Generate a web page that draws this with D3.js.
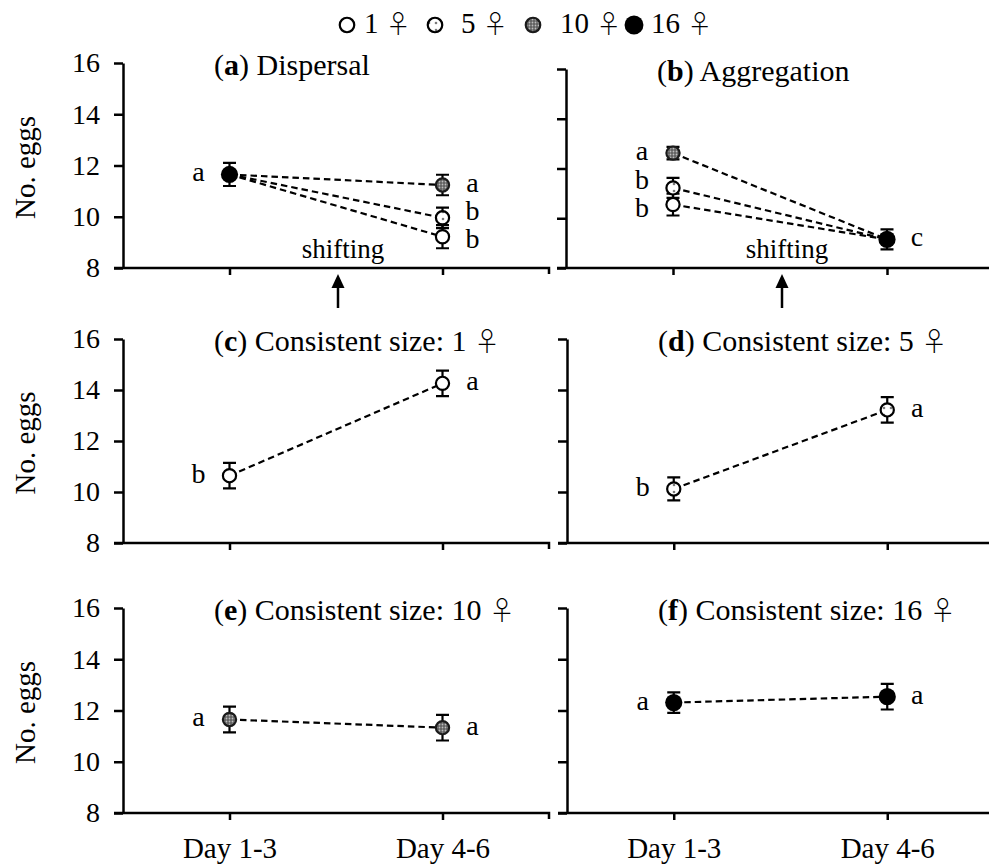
<!DOCTYPE html>
<html>
<head>
<meta charset="utf-8">
<script src="https://cdn.jsdelivr.net/npm/d3@7"></script>
<style>
  html, body { margin: 0; padding: 0; background: #fff; }
  svg { display: block; }
  text { font-family: "Liberation Serif", "Times New Roman", serif; fill: #000; }
  .venus { font-family: "Noto Sans CJK JP", "DejaVu Sans", sans-serif; font-weight: 300; }
</style>
</head>
<body>
<svg id="chart" width="989" height="865"></svg>
<script>
// ---- data ----
const days = ["Day 1-3", "Day 4-6"];
const groupSizes = [1, 5, 10, 16];
const legendLabels = ["1", "5", "10", "16"];
const yTicks = [8, 10, 12, 14, 16];
const FEMALE = "\u2640";

const panelLetters = ["a", "b", "c", "d", "e", "f"];
const panelNames = [" Dispersal", " Aggregation", " Consistent size: 1", " Consistent size: 5",
  " Consistent size: 10", " Consistent size: 16"];
const panelHasSymbol = [false, false, true, true, true, true];

// (a) dispersal: 16 females at first, then split into 10, 5 and 1
const dispersalPoints = [
  { day: 0, size: 16, mean: 11.65, se: 0.45, letter: "a" },
  { day: 1, size: 10, mean: 11.24, se: 0.40, letter: "a" },
  { day: 1, size: 5,  mean: 9.96,  se: 0.40, letter: "b" },
  { day: 1, size: 1,  mean: 9.22,  se: 0.45, letter: "b" }
];
const dispersalLinks = [[0, 1], [0, 2], [0, 3]];

// (b) aggregation: 10, 5 and 1 females merged into 16
const aggregationPoints = [
  { day: 0, size: 10, mean: 12.62, se: 0.25, letter: "a" },
  { day: 0, size: 5,  mean: 11.22, se: 0.40, letter: "b" },
  { day: 0, size: 1,  mean: 10.55, se: 0.44, letter: "b" },
  { day: 1, size: 16, mean: 9.15,  se: 0.40, letter: "c" }
];
const aggregationLinks = [[0, 3], [1, 3], [2, 3]];

// (c)-(f) groups kept at the same size
const size1Points = [
  { day: 0, size: 1, mean: 10.64, se: 0.50, letter: "b" },
  { day: 1, size: 1, mean: 14.26, se: 0.50, letter: "a" }
];
const size5Points = [
  { day: 0, size: 5, mean: 10.12, se: 0.45, letter: "b" },
  { day: 1, size: 5, mean: 13.22, se: 0.50, letter: "a" }
];
const size10Points = [
  { day: 0, size: 10, mean: 11.65, se: 0.50, letter: "a" },
  { day: 1, size: 10, mean: 11.33, se: 0.50, letter: "a" }
];
const size16Points = [
  { day: 0, size: 16, mean: 12.31, se: 0.40, letter: "a" },
  { day: 1, size: 16, mean: 12.54, se: 0.50, letter: "a" }
];
const pairLinks = [[0, 1]];

const panelPoints = [dispersalPoints, aggregationPoints, size1Points, size5Points, size10Points, size16Points];
const panelLinks = [dispersalLinks, aggregationLinks, pairLinks, pairLinks, pairLinks, pairLinks];

// ---- layout ----
const panelBoxes = [
  { x0: 123, x1: 549, top: 63,  bottom: 268 },
  { x0: 566, x1: 994, top: 69,  bottom: 268 },
  { x0: 123, x1: 549, top: 339, bottom: 543 },
  { x0: 567, x1: 994, top: 339, bottom: 543 },
  { x0: 123, x1: 549, top: 608, bottom: 813 },
  { x0: 567, x1: 994, top: 608, bottom: 813 }
];
const legendMarkerX = [347, 435, 533, 634];
const legendTextX = [364, 461, 560, 651];

const svg = d3.select("#chart");
const defs = svg.append("defs");

// speckled fill for 5 females
const dots = defs.append("pattern").attr("id", "dots")
  .attr("patternUnits", "userSpaceOnUse").attr("width", 7).attr("height", 7);
dots.append("rect").attr("width", 7).attr("height", 7).attr("fill", "#fff");
dots.append("circle").attr("cx", 2).attr("cy", 2).attr("r", 1.3).attr("fill", "#7a7a7a");

// mesh fill for 10 females
const mesh = defs.append("pattern").attr("id", "mesh")
  .attr("patternUnits", "userSpaceOnUse").attr("width", 3).attr("height", 3);
mesh.append("rect").attr("width", 3).attr("height", 3).attr("fill", "#5f5f5f");
mesh.append("circle").attr("cx", 1.5).attr("cy", 1.5).attr("r", 0.9).attr("fill", "#bdbdbd");

const fillBySize = d3.scaleOrdinal().domain(groupSizes)
  .range(["#fff", "url(#dots)", "url(#mesh)", "#000"]);
const strokeBySize = d3.scaleOrdinal().domain(groupSizes)
  .range(["#000", "#000", "#1a1a1a", "#000"]);
const radiusBySize = d3.scaleOrdinal().domain(groupSizes).range([6.6, 6.6, 6.6, 8.6]);

function drawMarker(sel, size, cx, cy, scale) {
  const k = scale || 1;
  sel.append("circle")
    .attr("cx", cx).attr("cy", cy)
    .attr("r", radiusBySize(size) * k)
    .attr("fill", fillBySize(size))
    .attr("stroke", size === 16 ? "none" : strokeBySize(size))
    .attr("stroke-width", 2.2);
}

// ---- legend ----
const legend = svg.append("g");
groupSizes.forEach((s, i) => {
  drawMarker(legend, s, legendMarkerX[i], 25, 1.1);
  const t = legend.append("text").attr("x", legendTextX[i]).attr("y", 33).attr("font-size", 29);
  t.append("tspan").text(legendLabels[i] + " ");
  t.append("tspan").attr("class", "venus").attr("font-size", 25).text(FEMALE);
});

// ---- panels ----
panelBoxes.forEach((box, p) => {
  const g = svg.append("g");
  const x = d3.scalePoint().domain(days).range([box.x0, box.x1]).padding(0.5);
  const y = d3.scaleLinear().domain([8, 16]).range([box.bottom, box.top]);
  const leftCol = p % 2 === 0;
  const bottomRow = p >= 4;

  // y axis
  const yAxis = d3.axisLeft(y).tickValues(yTicks).tickSize(9).tickSizeOuter(0)
    .tickPadding(14).tickFormat(leftCol ? d3.format("d") : () => "");
  const ya = g.append("g").attr("transform", `translate(${box.x0},0)`).call(yAxis);
  ya.select(".domain").attr("stroke-width", 2.5);
  ya.selectAll(".tick line").attr("stroke-width", 2.5);
  ya.selectAll(".tick text").attr("font-size", 28)
    .attr("font-family", "'Liberation Serif', serif").attr("fill", "#000");

  // x axis
  const xAxis = d3.axisBottom(x).tickSize(7).tickSizeOuter(0).tickFormat(bottomRow ? d => d : () => "");
  const xa = g.append("g").attr("transform", `translate(0,${box.bottom})`).call(xAxis);
  xa.select(".domain").remove();
  xa.selectAll(".tick line").attr("stroke-width", 2.5);
  xa.selectAll(".tick text").attr("font-size", 29).attr("y", 24)
    .attr("font-family", "'Liberation Serif', serif").attr("fill", "#000");
  g.append("path")
    .attr("d", `M${box.x0 - 9},${box.bottom}H${box.x1}v6`)
    .attr("fill", "none").attr("stroke", "#000").attr("stroke-width", 2.5);

  // y axis title
  if (leftCol) {
    g.append("text")
      .attr("transform", `translate(35,${(box.top + box.bottom) / 2 + 2}) rotate(-90)`)
      .attr("text-anchor", "middle").attr("font-size", 29).text("No. eggs");
  }

  // panel title
  const title = g.append("text").attr("x", box.x0 + 91).attr("y", box.top + 12).attr("font-size", 30);
  title.append("tspan").text("(");
  title.append("tspan").attr("font-weight", "bold").text(panelLetters[p]);
  title.append("tspan").text(")" + panelNames[p] + (panelHasSymbol[p] ? " " : ""));
  if (panelHasSymbol[p]) title.append("tspan").attr("class", "venus").attr("font-size", 26).text(FEMALE);

  const pts = panelPoints[p];
  const px = d => x(days[d.day]);

  // dashed connectors
  g.selectAll(".link").data(panelLinks[p]).join("line")
    .attr("x1", l => px(pts[l[0]])).attr("y1", l => y(pts[l[0]].mean))
    .attr("x2", l => px(pts[l[1]])).attr("y2", l => y(pts[l[1]].mean))
    .attr("stroke", "#000").attr("stroke-width", 2.2).attr("stroke-dasharray", "6.5,4");

  // error bars
  pts.forEach(d => {
    const cx = px(d), lo = y(d.mean - d.se), hi = y(d.mean + d.se);
    g.append("path")
      .attr("d", `M${cx},${lo}V${hi}M${cx - 6.5},${lo}H${cx + 6.5}M${cx - 6.5},${hi}H${cx + 6.5}`)
      .attr("stroke", "#000").attr("stroke-width", 2.2).attr("fill", "none");
  });

  // markers
  pts.forEach(d => drawMarker(g, d.size, px(d), y(d.mean)));

  // significance letters, spread apart where they would collide
  [0, 1].forEach(side => {
    const labs = pts.filter(d => d.day === side)
      .map(d => ({ text: d.letter, x: px(d) + (side === 0 ? -31 : 30), y: y(d.mean) + 7 }))
      .sort((a, b) => a.y - b.y);
    const gap = 28;
    for (let it = 0; it < 50; it++) {
      for (let i = 1; i < labs.length; i++) {
        const d = labs[i].y - labs[i - 1].y;
        if (d < gap) {
          const push = (gap - d) / 2;
          labs[i - 1].y -= push;
          labs[i].y += push;
        }
      }
    }
    labs.forEach(l => g.append("text").attr("x", l.x).attr("y", l.y)
      .attr("text-anchor", "middle").attr("font-size", 28).text(l.text));
  });

  // shift marker between the two periods
  if (p < 2) {
    const mid = (x(days[0]) + x(days[1])) / 2;
    g.append("text").attr("x", mid + 7).attr("y", box.bottom - 10)
      .attr("text-anchor", "middle").attr("font-size", 27).text("shifting");
    g.append("line").attr("x1", mid + 2).attr("x2", mid + 2)
      .attr("y1", box.bottom + 18).attr("y2", box.bottom + 40)
      .attr("stroke", "#000").attr("stroke-width", 2.5);
    g.append("path")
      .attr("d", `M${mid + 2},${box.bottom + 6}L${mid + 8.5},${box.bottom + 20}L${mid - 4.5},${box.bottom + 20}Z`)
      .attr("fill", "#000");
  }
});
</script>
</body>
</html>
